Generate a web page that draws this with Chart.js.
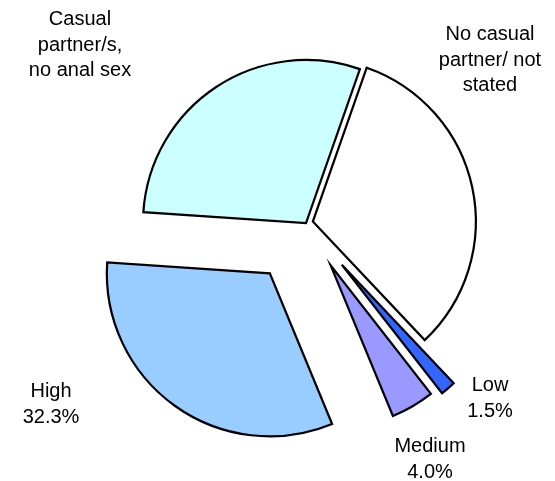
<!DOCTYPE html>
<html>
<head>
<meta charset="utf-8">
<script src="https://cdn.jsdelivr.net/npm/chart.js@4/dist/chart.umd.min.js"></script>
<style>
    html, body { margin: 0; padding: 0; background: #fff; }
    #wrap { width: 555px; height: 481px; }
</style>
</head>
<body>
<div id="wrap"><canvas id="riskPie"></canvas></div>
<script>
// slices, clockwise from the top
const categories = ['No casual partner/ not stated', 'Low', 'Medium', 'High', 'Casual partner/s, no anal sex'];
// shares
const shares = [32.6, 1.5, 4.3, 32.3, 29.3];
const labelLines = [
    ['No casual', 'partner/ not', 'stated'],
    ['Low', '1.5%'],
    ['Medium', '4.0%'],
    ['High', '32.3%'],
    ['Casual', 'partner/s,', 'no anal sex']
];

// styling
const sliceColors = ['#FFFFFF', '#3366FF', '#9999FF', '#99CCFF', '#CCFFFF'];
const explode = [7, 55, 49, 62, 0];
const labelPos = [[490, 40], [490, 391], [430, 452], [51, 397], [80, 25]];

// push each arc out along its middle angle (Excel-style exploded pie)
const explodePlugin = {
    id: 'explode',
    afterUpdate(chart) {
        chart.getDatasetMeta(0).data.forEach((arc, i) => {
            const mid = (arc.startAngle + arc.endAngle) / 2;
            arc.x += Math.cos(mid) * explode[i];
            arc.y += Math.sin(mid) * explode[i];
        });
    }
};

const labelPlugin = {
    id: 'sliceLabels',
    afterDatasetsDraw(chart) {
        const ctx = chart.ctx;
        ctx.save();
        ctx.font = '20px "Liberation Sans", Arial, sans-serif';
        ctx.fillStyle = '#000';
        ctx.textAlign = 'center';
        ctx.textBaseline = 'alphabetic';
        labelLines.forEach((lines, i) => {
            const [x, y] = labelPos[i];
            lines.forEach((t, j) => ctx.fillText(t, x, y + j * 25.5));
        });
        ctx.restore();
    }
};

new Chart(document.getElementById('riskPie'), {
    type: 'pie',
    data: {
        labels: categories,
        datasets: [{
            data: shares,
            backgroundColor: sliceColors,
            borderColor: '#000',
            borderWidth: 2.2,
            borderJoinStyle: 'miter'
        }]
    },
    options: {
        responsive: true,
        maintainAspectRatio: false,
        animation: false,
        rotation: 19.3,
        radius: 163,
        layout: { padding: { left: 57, right: 0, top: 0, bottom: 35 } },
        plugins: {
            legend: { display: false },
            tooltip: { enabled: false }
        },
        events: []
    },
    plugins: [explodePlugin, labelPlugin]
});
</script>
</body>
</html>
